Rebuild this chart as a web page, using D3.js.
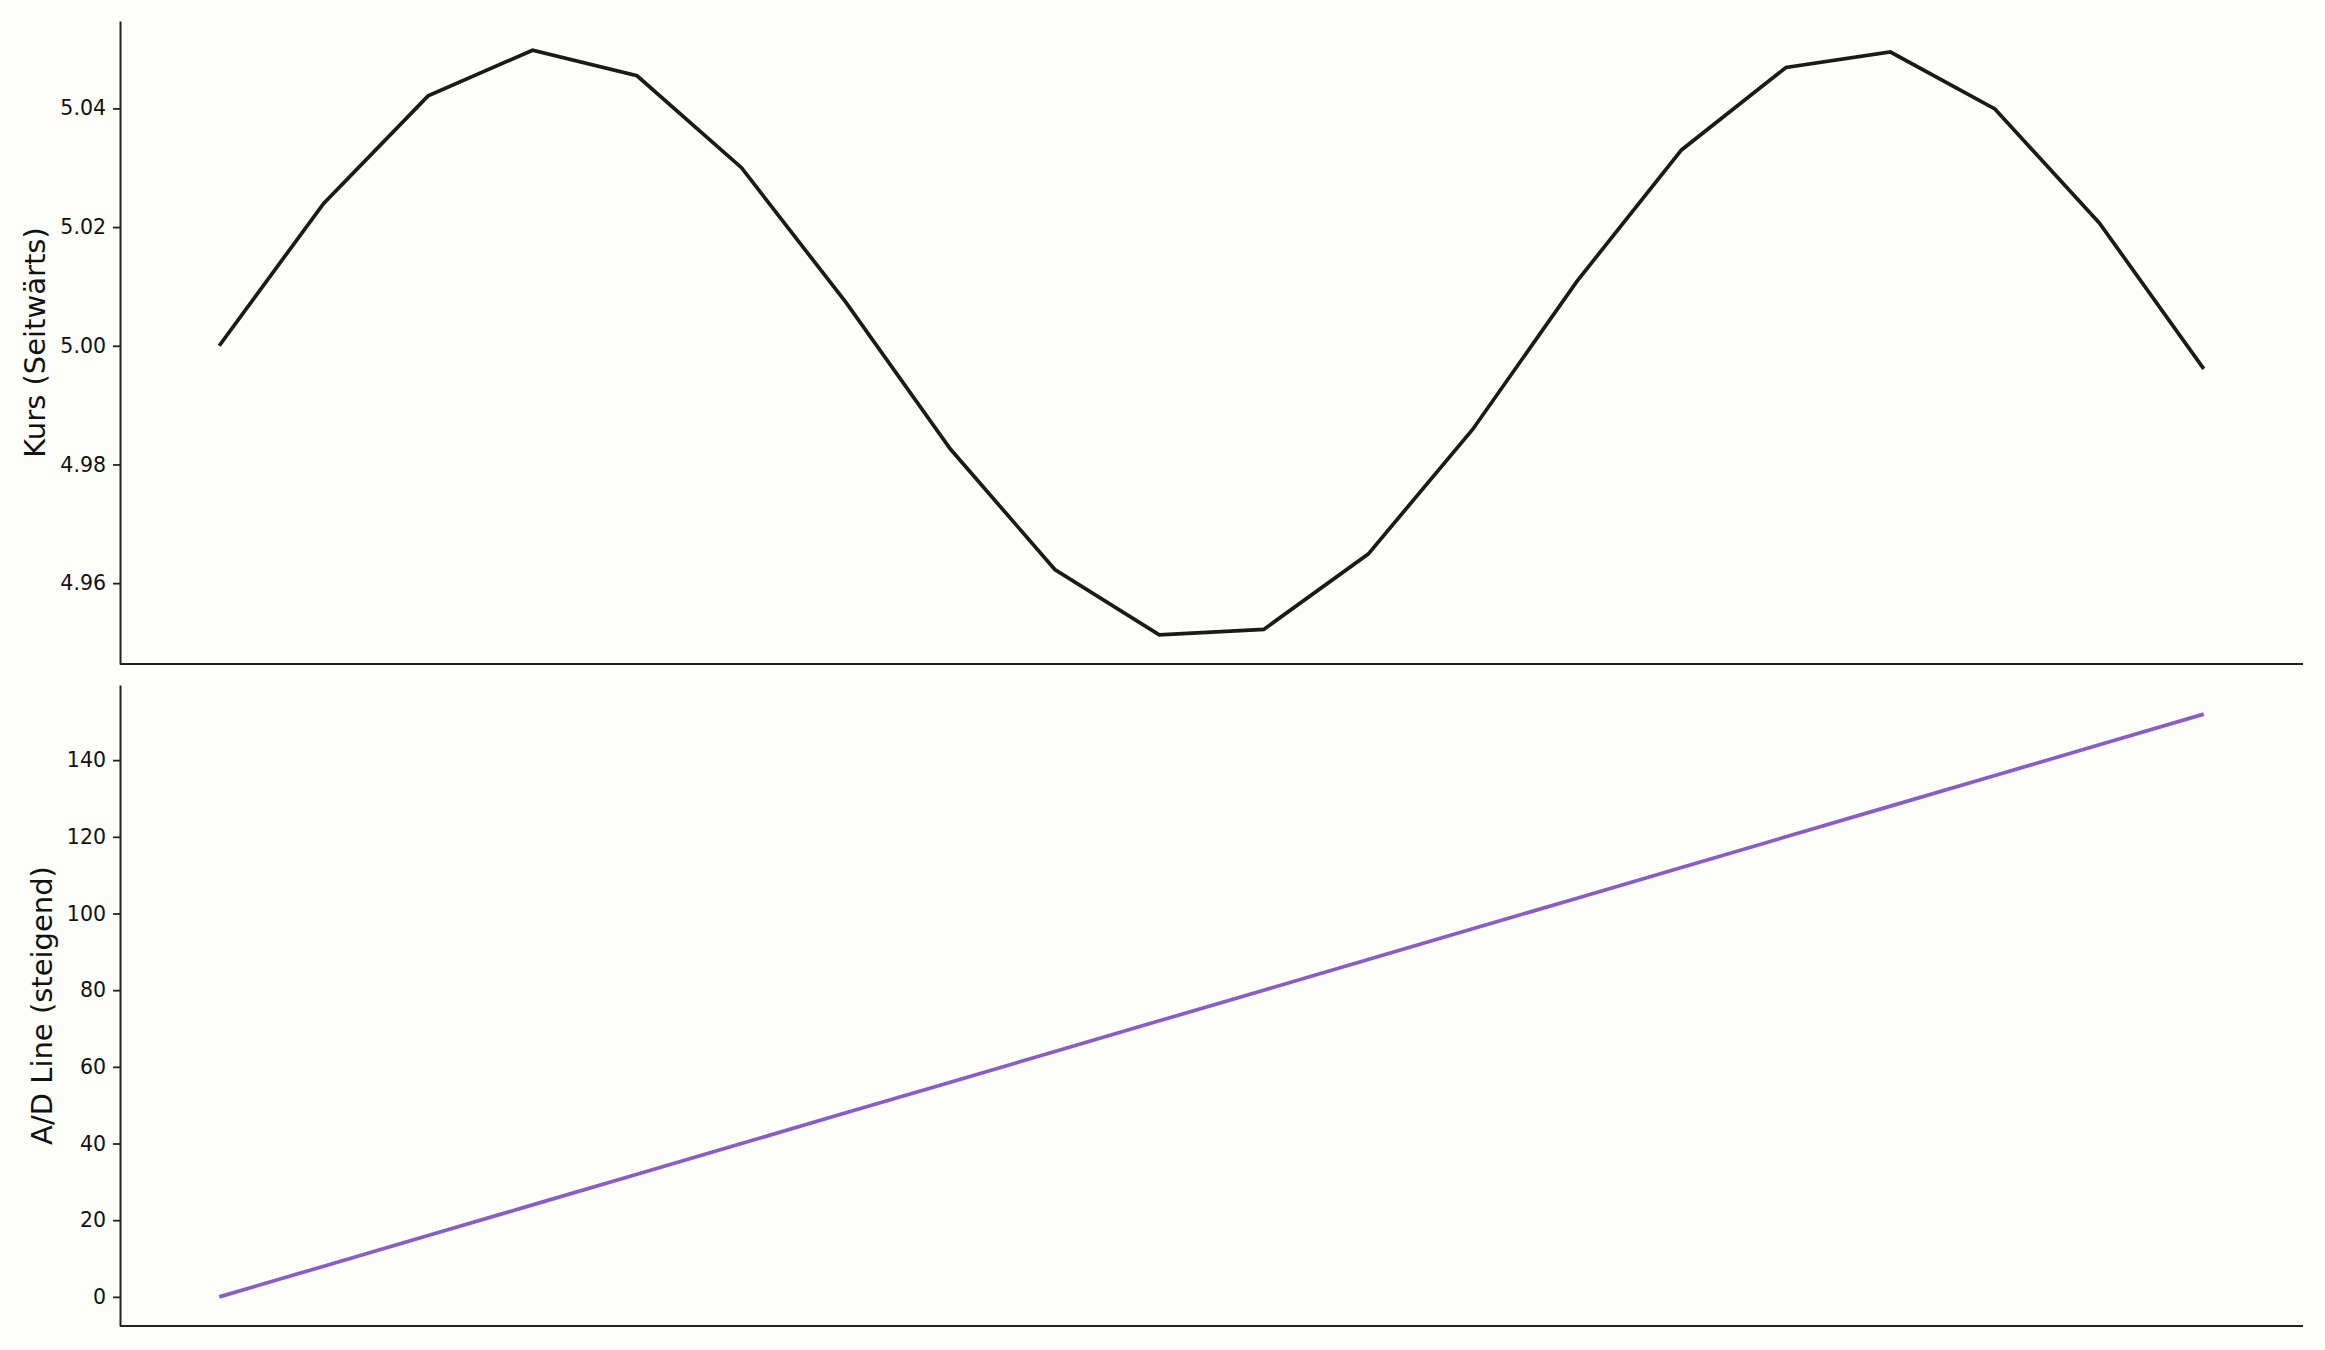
<!DOCTYPE html>
<html>
<head>
<meta charset="utf-8">
<script src="https://cdn.jsdelivr.net/npm/d3@7"></script>
<style>
  body { margin: 0; background: #fdfdf9; }
  svg { display: block; }
  .tick text { font-family: "DejaVu Sans", sans-serif; font-size: 20.5px; fill: #111; }
  .ylabel { font-family: "DejaVu Sans", sans-serif; font-size: 29px; fill: #111; }
</style>
</head>
<body>
<div id="chart"></div>
<script>
// data
const steps = d3.range(20);
const kurs = [5.0000, 5.0240, 5.0421, 5.0498, 5.0455, 5.0300, 5.0073, 4.9826, 4.9623, 4.9513,
              4.9522, 4.9649, 4.9859, 5.0109, 5.0330, 5.0469, 5.0495, 5.0399, 5.0207, 4.9961];
const adLine = [0, 8, 16, 24, 32, 40, 48, 56, 64, 72, 80, 88, 96, 104, 112, 120, 128, 136, 144, 152];
const kursTicks = [4.96, 4.98, 5.00, 5.02, 5.04];
const adTicks = [0, 20, 40, 60, 80, 100, 120, 140];

const width = 2325, height = 1350;
const left = 120, right = 2303;

const svg = d3.select("#chart")
  .append("svg")
    .attr("width", width)
    .attr("height", height);

svg.append("rect")
  .attr("width", width)
  .attr("height", height)
  .attr("fill", "#fdfdf9");

// x scale shared by both panels, matplotlib style 5% padding
const x = d3.scaleLinear()
  .domain([-0.95, 19.95])
  .range([left, right]);

function pad(ext) {
  const m = (ext[1] - ext[0]) * 0.05;
  return [ext[0] - m, ext[1] + m];
}

function panel(values, ticks, fmt, top, bottom, color, label) {
  const y = d3.scaleLinear()
    .domain(pad(d3.extent(values)))
    .range([bottom, top]);

  const g = svg.append("g");

  // y axis
  const yAxis = g.append("g")
    .attr("transform", `translate(${left}, 0)`)
    .call(d3.axisLeft(y).tickValues(ticks).tickFormat(fmt)
      .tickSizeInner(7).tickSizeOuter(0).tickPadding(7));
  yAxis.select(".domain").attr("stroke", "#222").attr("stroke-width", 2);
  yAxis.selectAll(".tick line").attr("stroke", "#222").attr("stroke-width", 1.8);

  // bottom spine only, no x ticks
  g.append("line")
    .attr("x1", left).attr("x2", right)
    .attr("y1", bottom).attr("y2", bottom)
    .attr("stroke", "#222")
    .attr("stroke-width", 2);

  // the line
  const line = d3.line()
    .x((d, i) => x(steps[i]))
    .y(d => y(d));

  g.append("path")
    .datum(values)
    .attr("fill", "none")
    .attr("stroke", color)
    .attr("stroke-width", 3.7)
    .attr("stroke-linejoin", "miter")
    .attr("d", line);

  // y label next to the tick labels (bbox is in the axis' own coords)
  const bb = yAxis.node().getBBox();
  const lx = left + bb.x - 15;
  g.append("text")
    .attr("class", "ylabel")
    .attr("text-anchor", "middle")
    .attr("transform", `translate(${lx}, ${(top + bottom) / 2}) rotate(-90)`)
    .text(label);
}

panel(kurs, kursTicks, d3.format(".2f"), 21, 664, "#1a1a1a", "Kurs (Seitwärts)");
panel(adLine, adTicks, d3.format("d"), 685, 1326, "#8a5cc8", "A/D Line (steigend)");
</script>
</body>
</html>
